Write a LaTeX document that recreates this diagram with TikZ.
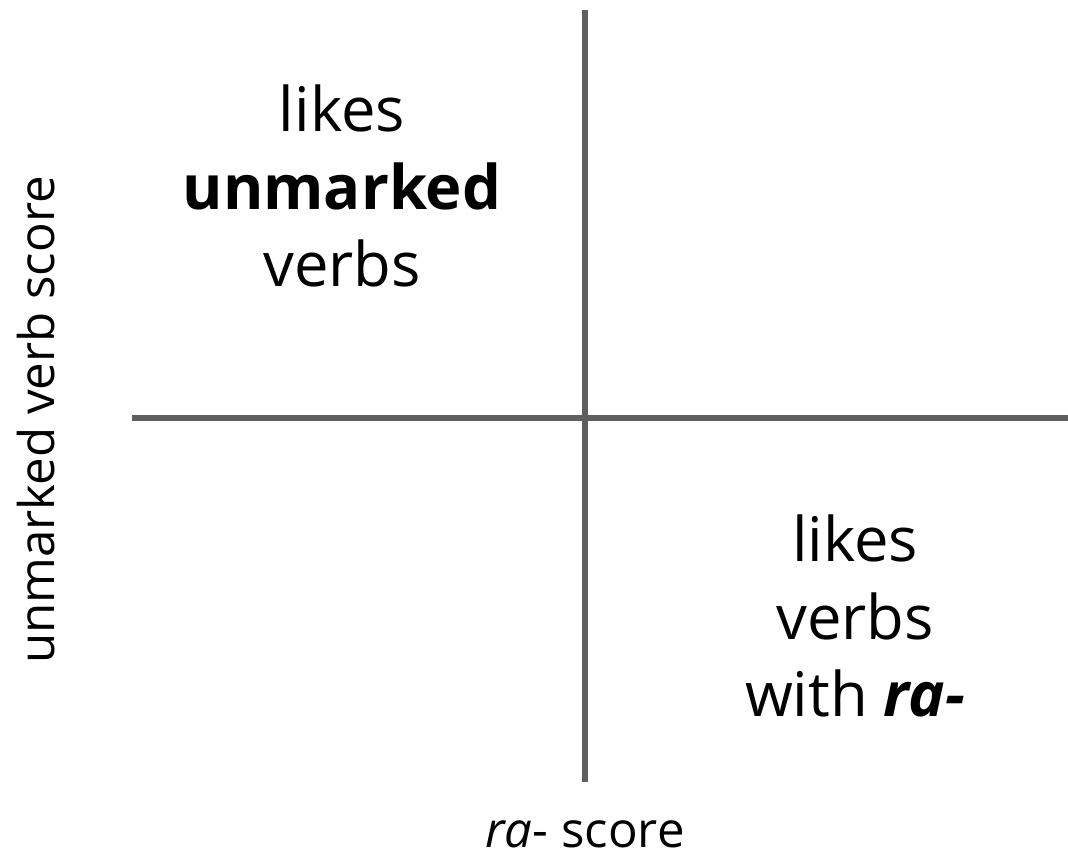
\documentclass[tikz,border=0pt]{standalone}
\usepackage{fontspec}
\setmainfont{Open Sans}
\usetikzlibrary{positioning}
\definecolor{axisgray}{HTML}{5F5F5F}
\tikzset{
  axis/.style={draw=axisgray,line width=1.2mm},
  quad/.style={align=center,font=\fontsize{35}{44}\selectfont,inner sep=0pt},
  axlabel/.style={font=\fontsize{28}{32}\selectfont,inner sep=0pt}
}

\begin{document}
\begin{tikzpicture}[x=0.2mm,y=-0.2mm]
\useasboundingbox (0,0) rectangle (1068,864);

\coordinate (vtop) at (585,10);
\coordinate (vbot) at (585,782);
\coordinate (hleft) at (132,418);
\coordinate (hright) at (1068,418);

\draw[axis] (vtop) -- (vbot);
\draw[axis] (hleft) -- (hright);

\node[quad] (topleft) at (342,186) {likes\\\textbf{unmarked}\\verbs};
\node[quad] (botright) at (855,616) {likes\\verbs\\with \textbf{\textit{ra-}}};

\node[axlabel,rotate=90] (ylab) at (36,420) {unmarked verb score};
\node[axlabel] (xlab) at (585,834) {\textit{ra}- score};

\end{tikzpicture}
\end{document}
